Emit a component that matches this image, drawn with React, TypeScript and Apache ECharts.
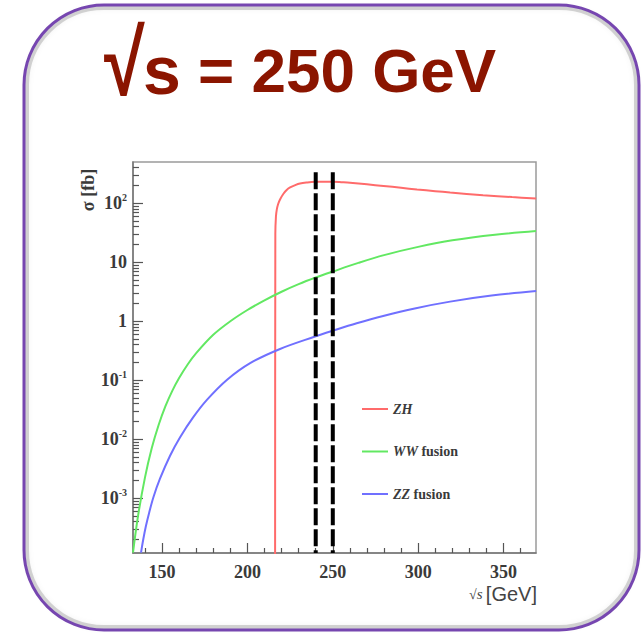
import React, { useEffect, useRef } from 'react';
import * as echarts from 'echarts';

// Higgs production cross sections vs centre-of-mass energy (fb)
const zhEnergy = [216.2, 216.35, 216.7, 217.2, 218, 219.1, 221.1, 223, 225, 228, 230.8, 235, 239.6, 245, 250.4, 255, 260.1, 270, 279.7, 290, 299.3, 310, 318.7, 338, 355, 369.1];
const zhSigma = [1e-5, 30, 59, 78, 97, 116, 145, 168, 185, 203, 216, 225, 231, 232, 231, 227, 222, 209, 196, 183, 171, 160, 152, 137, 127, 120];

const wwEnergy = [133, 136, 140, 144, 148, 152, 156, 160, 165, 170, 180, 190, 200, 210, 220, 230, 240, 250, 265, 280, 300, 320, 345, 369];
const wwSigma = [1.2e-4, 5.13e-4, 2.24e-3, 7.08e-3, 0.0174, 0.0363, 0.0661, 0.109, 0.185, 0.288, 0.589, 1.0, 1.55, 2.26, 3.16, 4.25, 5.5, 6.95, 9.75, 13.2, 18.2, 23.5, 29.2, 33.7];

const zzEnergy = [137.7, 139, 140.5, 142.5, 145, 148.8, 154.7, 160.5, 168.2, 176.4, 188.1, 201.6, 219.1, 239.6, 249.6, 264, 279.5, 298, 318.7, 343, 369.1];
const zzSigma = [1.2e-4, 2.0e-4, 3.31e-4, 5.75e-4, 1.05e-3, 2.14e-3, 5.25e-3, 0.0107, 0.0234, 0.0468, 0.102, 0.195, 0.339, 0.55, 0.684, 0.923, 1.23, 1.65, 2.15, 2.72, 3.24];

// Running points marked by the dashed lines
const runEnergies = [240, 250];
const runMarkerTopSigma = 335;

// Axes
const energyMin = 133;
const energyMax = 369;
const sigmaMin = 1.18e-4;
const sigmaMax = 500;
const xMajorTicks = [150, 200, 250, 300, 350];
const xMinorTicks = [140, 160, 170, 180, 190, 210, 220, 230, 240, 260, 270, 280, 290, 310, 320, 330, 340, 360];
const yDecades = [-3, -2, -1, 0, 1, 2];
const yDecadeLabels = ['10{sup|-3}', '10{sup|-2}', '10{sup|-1}', '1', '10', '10{sup|2}'];
const yMinorMultipliers = [2, 3, 4, 5, 6, 7, 8, 9];

const seriesNames = ['ZH', 'WW fusion', 'ZZ fusion'];
const legendLabels = ['{i|ZH}', '{i|WW} fusion', '{i|ZZ} fusion'];
const seriesColors = ['#ff6b6b', '#62e862', '#7070ff'];

const SERIF = '"Liberation Serif", "Times New Roman", serif';
const SANS = '"Liberation Sans", Arial, Helvetica, sans-serif';
const TITLE_RED = '#8b1500';

const toLog = (v: number) => Math.log10(v);

export default function App() {
  const ref = useRef<HTMLDivElement>(null);

  useEffect(() => {
    if (!ref.current) return;
    const chart = echarts.init(ref.current, undefined, { renderer: 'svg' });

    const yMin = toLog(sigmaMin);
    const yMax = toLog(sigmaMax);
    const yMinor: number[] = [];
    for (let d = -4; d <= 2; d++) {
      for (const k of yMinorMultipliers) {
        const v = toLog(k) + d;
        if (v > yMin && v < yMax) yMinor.push(v);
      }
    }

    const curves = [
      [zhEnergy, zhSigma],
      [wwEnergy, wwSigma],
      [zzEnergy, zzSigma],
    ].map(([e, s], i) => ({
      name: seriesNames[i],
      type: 'line',
      xAxisIndex: 0,
      yAxisIndex: 0,
      data: e.map((x, j) => [x, toLog(s[j])]),
      showSymbol: false,
      symbol: 'none',
      smooth: 0.35,
      clip: true,
      lineStyle: { color: seriesColors[i], width: 2 },
      itemStyle: { color: seriesColors[i] },
      z: 3,
    }));

    const runLines = runEnergies.map((e) => ({
      name: `run ${e}`,
      type: 'line',
      xAxisIndex: 0,
      yAxisIndex: 0,
      data: [
        [e, toLog(runMarkerTopSigma)],
        [e, yMin],
      ],
      showSymbol: false,
      symbol: 'none',
      lineStyle: { color: '#000', width: 4, type: [17, 4], cap: 'butt' },
      z: 4,
    }));

    const tickLine = { color: '#555', width: 1.2 };
    const labelStyle = {
      fontFamily: SERIF,
      fontSize: 18,
      fontWeight: 'bold' as const,
      color: '#3a3a3a',
    };

    chart.setOption({
      animation: false,
      backgroundColor: 'transparent',
      grid: {
        left: 133,
        right: 107,
        top: 162,
        bottom: 83,
        show: true,
        borderColor: '#9a9a9a',
        borderWidth: 1.5,
        backgroundColor: 'transparent',
        containLabel: false,
        outerBoundsMode: 'none',
      },
      xAxis: [
        {
          type: 'value',
          min: energyMin,
          max: energyMax,
          position: 'bottom',
          axisLine: { show: true, onZero: false, lineStyle: { color: '#777', width: 1.5 } },
          axisTick: { show: true, inside: true, length: 10, customValues: xMajorTicks, lineStyle: tickLine },
          axisLabel: { show: true, customValues: xMajorTicks, margin: 10, ...labelStyle },
          splitLine: { show: false },
        },
        {
          type: 'value',
          min: energyMin,
          max: energyMax,
          position: 'bottom',
          axisLine: { show: false, onZero: false },
          axisTick: { show: true, inside: true, length: 5, customValues: xMinorTicks, lineStyle: tickLine },
          axisLabel: { show: false },
          splitLine: { show: false },
        },
      ],
      yAxis: [
        {
          type: 'value',
          min: yMin,
          max: yMax,
          position: 'left',
          axisLine: { show: true, onZero: false, lineStyle: { color: '#777', width: 1.5 } },
          axisTick: { show: true, inside: true, length: 10, customValues: yDecades, lineStyle: tickLine },
          axisLabel: {
            show: true,
            customValues: yDecades,
            margin: 6,
            formatter: (v: number) => {
              const idx = yDecades.indexOf(Math.round(v));
              return idx >= 0 ? yDecadeLabels[idx] : '';
            },
            ...labelStyle,
            lineHeight: 22,
            rich: {
              sup: {
                fontFamily: SERIF,
                fontSize: 10,
                fontWeight: 'bold',
                color: '#3a3a3a',
                verticalAlign: 'top',
                lineHeight: 12,
              },
            },
          },
          splitLine: { show: false },
        },
        {
          type: 'value',
          min: yMin,
          max: yMax,
          position: 'left',
          axisLine: { show: false, onZero: false },
          axisTick: { show: true, inside: true, length: 6, customValues: yMinor, lineStyle: tickLine },
          axisLabel: { show: false },
          splitLine: { show: false },
        },
      ],
      legend: {
        data: seriesNames,
        orient: 'vertical',
        left: 362,
        top: 402,
        padding: 0,
        icon: 'rect',
        itemWidth: 26,
        itemHeight: 2,
        itemGap: 28.5,
        formatter: (name: string) => legendLabels[seriesNames.indexOf(name)],
        textStyle: {
          fontFamily: SERIF,
          fontSize: 14,
          lineHeight: 14,
          fontWeight: 'bold',
          color: '#3a3a3a',
          rich: {
            i: { fontFamily: SERIF, fontSize: 14, lineHeight: 14, fontWeight: 'bold', fontStyle: 'italic', color: '#3a3a3a' },
          },
        },
      },
      graphic: [
        {
          type: 'rect',
          z: -12,
          silent: true,
          shape: { x: 24, y: 5, width: 615, height: 625, r: 80 },
          style: { fill: '#ffffff' },
        },
        {
          // soft inner glow along the frame
          type: 'rect',
          z: -11,
          silent: true,
          shape: { x: 27, y: 8, width: 609, height: 619, r: 77 },
          style: {
            fill: 'none',
            stroke: 'rgba(0,0,0,0.16)',
            lineWidth: 4,
            shadowBlur: 5,
            shadowColor: 'rgba(0,0,0,0.3)',
          },
        },
        {
          type: 'rect',
          z: -10,
          silent: true,
          shape: { x: 24, y: 5, width: 615, height: 625, r: 80 },
          style: { fill: 'none', stroke: '#7646b0', lineWidth: 3 },
        },
        {
          // tall radical sign of the title
          type: 'text',
          x: 104,
          y: 63,
          scaleY: 1.25,
          silent: true,
          style: {
            text: '√',
            align: 'left',
            verticalAlign: 'middle',
            fontFamily: SANS,
            fontSize: 74,
            fontWeight: 'bold',
            fill: TITLE_RED,
          },
        },
        {
          type: 'text',
          x: 143,
          y: 70,
          silent: true,
          style: {
            text: '{s|s}{t| = 250 GeV}',
            align: 'left',
            verticalAlign: 'middle',
            rich: {
              s: { fontFamily: SANS, fontSize: 68, fontWeight: 'bold', fill: TITLE_RED },
              t: { fontFamily: SANS, fontSize: 62, fontWeight: 'bold', fill: TITLE_RED },
            },
          },
        },
        {
          type: 'text',
          x: 88,
          y: 190,
          rotation: Math.PI / 2,
          silent: true,
          style: {
            text: 'σ [fb]',
            align: 'center',
            verticalAlign: 'middle',
            fontFamily: SERIF,
            fontSize: 18,
            fontWeight: 'bold',
            fill: '#3a3a3a',
          },
        },
        {
          type: 'text',
          x: 537,
          y: 594,
          silent: true,
          style: {
            text: '{a|√}{b|s} {c|[GeV]}',
            align: 'right',
            verticalAlign: 'middle',
            rich: {
              a: { fontFamily: SERIF, fontSize: 14, fill: '#444' },
              b: { fontFamily: SERIF, fontSize: 15, fontStyle: 'italic', fill: '#444' },
              c: { fontFamily: SANS, fontSize: 20, fill: '#444' },
            },
          },
        },
      ],
      series: [...curves, ...runLines],
    });

    return () => chart.dispose();
  }, []);

  return <div ref={ref} style={{ position: 'absolute', left: 0, top: 0, width: 643, height: 636 }} />;
}
